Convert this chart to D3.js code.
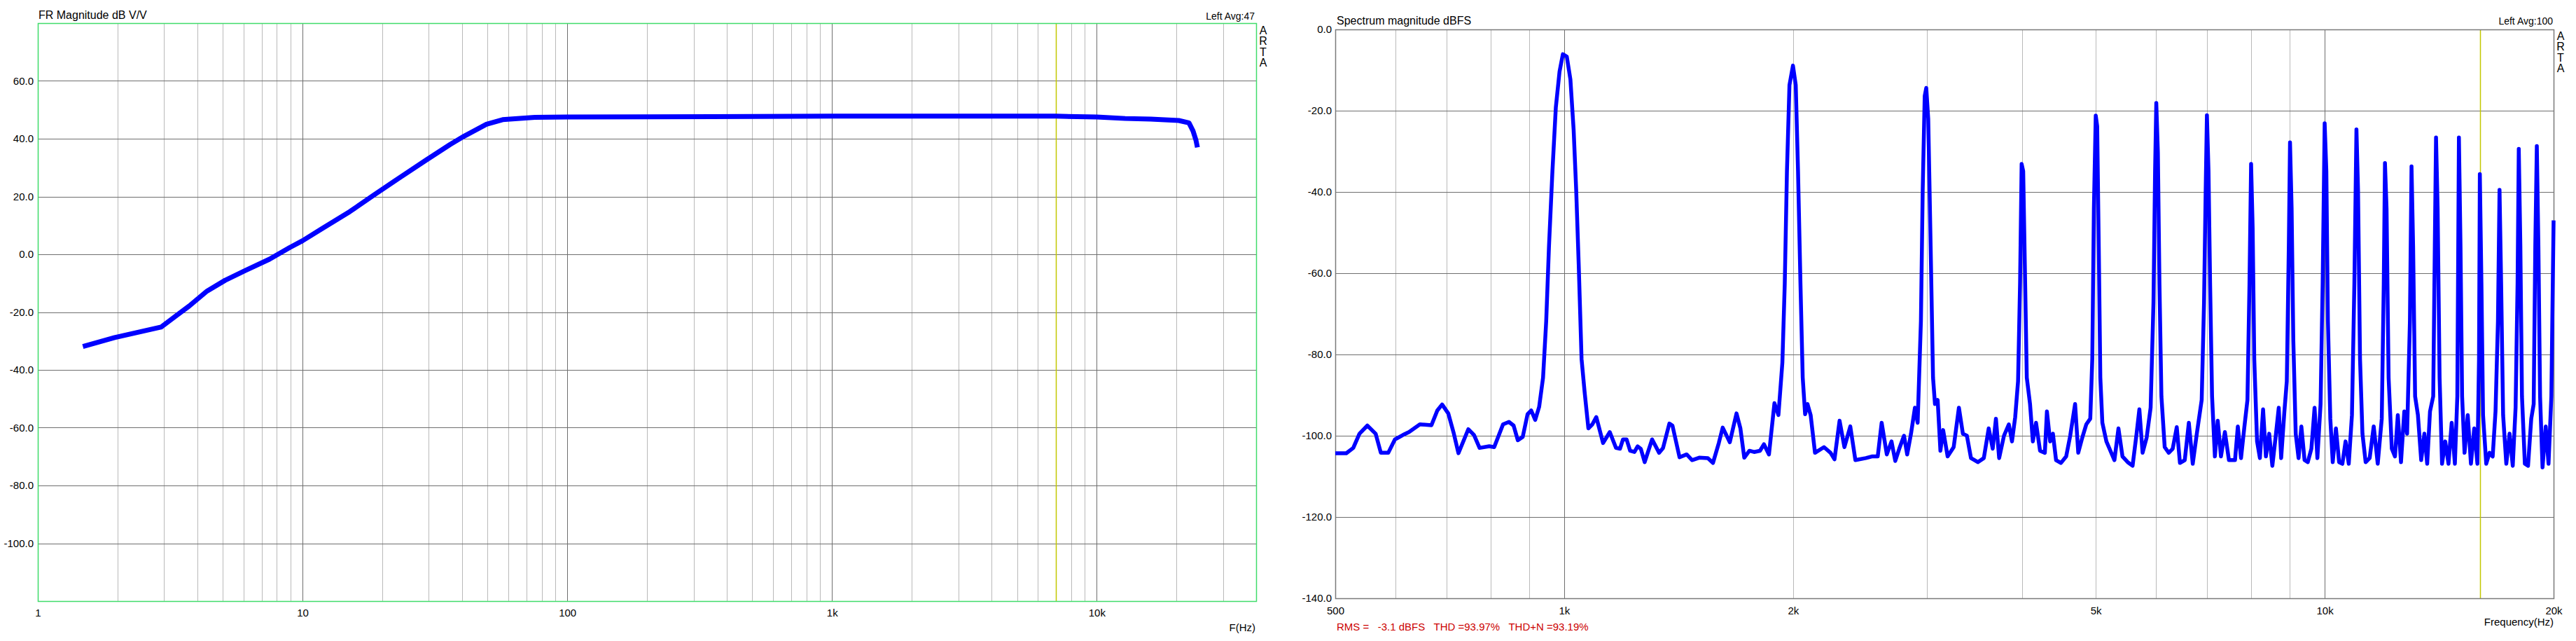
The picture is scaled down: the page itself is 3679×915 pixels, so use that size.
<!DOCTYPE html>
<html>
<head>
<meta charset="utf-8">
<script src="https://cdn.jsdelivr.net/npm/d3@7"></script>
<style>
  body { margin: 0; background: #fff; }
  text { font-family: "Liberation Sans", Arial, sans-serif; fill: #000; }
</style>
</head>
<body>
<div id="chart"></div>
<script>
// ---- left panel: FR magnitude dB V/V ----
var frPoints = [
  [1.48, -31.9], [1.95, -28.8], [2.92, -25.2], [3.73, -17.9], [4.36, -12.7], [5.1, -9.0],
  [6.08, -5.6], [7.5, -1.7], [8.93, 2.3], [10, 4.7], [11.8, 8.8], [15.1, 14.8], [18.6, 20.5],
  [22.9, 26.1], [29.3, 32.6], [36.1, 38.0], [40.8, 40.9], [49.5, 45.0], [57, 46.6], [75.4, 47.4],
  [100, 47.5], [200, 47.6], [500, 47.7], [1000, 47.8], [2000, 47.8], [5000, 47.8], [7000, 47.8],
  [10000, 47.5], [12800, 47.0], [16000, 46.8], [20400, 46.3], [22300, 45.5], [23100, 42.7],
  [23700, 39.5], [24000, 37.0]
];
var frYTicks = [60, 40, 20, 0, -20, -40, -60, -80, -100];
var frXTicks = [1, 10, 100, 1000, 10000];
var frXText = ["1", "10", "100", "1k", "10k"];
var frCursor = 7000;

// ---- right panel: spectrum magnitude dBFS ----
var specPoints = [
  [500,-104.3],[517,-104.3],[528,-103.0],[538,-99.5],[551,-97.5],[565,-99.5],[574,-104.2],[587,-104.2],
  [599,-100.9],[614,-99.8],[625,-99.1],[646,-97.2],[669,-97.4],[681,-93.8],[691,-92.3],[704,-94.5],
  [716,-99.5],[726,-104.3],[748,-98.4],[761,-99.8],[774,-103.0],[797,-102.6],[809,-102.8],[831,-97.2],
  [846,-96.6],[858,-97.5],[869,-101.1],[882,-100.3],[895,-94.7],[905,-93.8],[916,-96.1],[927,-92.9],
  [938,-85.7],[947,-71.8],[955,-53.4],[965,-34.9],[975,-19.2],[986,-10.4],[996,-6.1],[1008,-6.7],
  [1019,-12.3],[1029,-24.7],[1037,-39.5],[1045,-58.0],[1054,-81.1],[1064,-89.4],[1076,-98.2],[1089,-97.2],
  [1102,-95.4],[1125,-101.8],[1148,-99.1],[1170,-103.0],[1184,-103.2],[1195,-100.9],[1208,-100.9],[1221,-103.7],
  [1237,-104.0],[1249,-102.6],[1261,-103.2],[1276,-106.5],[1305,-100.9],[1333,-104.2],[1349,-103.0],[1375,-97.0],
  [1388,-97.5],[1418,-105.3],[1449,-104.6],[1473,-106.0],[1505,-105.4],[1545,-105.5],[1569,-106.7],[1597,-101.8],
  [1616,-98.0],[1651,-101.6],[1685,-94.5],[1705,-98.2],[1725,-105.4],[1752,-103.7],[1777,-104.0],[1809,-103.7],
  [1831,-102.1],[1859,-104.6],[1890,-92.0],[1913,-94.9],[1936,-82.0],[1950,-62.6],[1963,-34.9],[1978,-13.7],
  [1999,-8.9],[2016,-13.7],[2030,-34.9],[2045,-62.6],[2059,-85.7],[2074,-94.7],[2089,-92.2],[2109,-94.9],
  [2137,-104.2],[2196,-102.8],[2240,-104.2],[2267,-105.8],[2302,-96.3],[2336,-102.8],[2378,-97.7],[2415,-106.0],
  [2493,-105.5],[2538,-105.1],[2584,-105.1],[2615,-96.8],[2656,-104.6],[2694,-101.4],[2725,-106.2],[2758,-103.2],
  [2798,-100.0],[2825,-104.6],[2858,-99.5],[2892,-93.1],[2916,-96.8],[2945,-71.8],[2961,-39.5],[2979,-16.4],
  [2993,-14.4],[3011,-22.0],[3033,-53.4],[3055,-85.7],[3073,-92.2],[3098,-91.2],[3124,-103.7],[3150,-98.6],
  [3193,-105.1],[3252,-102.8],[3304,-93.1],[3344,-99.5],[3385,-100.0],[3427,-105.5],[3499,-106.5],[3563,-105.5],
  [3616,-98.2],[3660,-103.2],[3696,-95.8],[3732,-105.5],[3787,-100.0],[3843,-97.2],[3880,-101.4],[3918,-95.4],
  [3952,-86.6],[3976,-62.6],[3995,-33.1],[4014,-34.9],[4034,-58.0],[4058,-85.7],[4098,-92.2],[4133,-101.4],
  [4173,-96.8],[4224,-103.7],[4286,-104.2],[4313,-94.0],[4355,-101.4],[4392,-99.5],[4434,-106.0],[4500,-106.7],
  [4572,-105.1],[4628,-100.0],[4697,-92.2],[4742,-104.2],[4800,-100.5],[4859,-97.2],[4918,-95.8],[4948,-81.1],
  [4972,-44.1],[5000,-21.2],[5022,-23.8],[5046,-53.4],[5070,-85.7],[5101,-96.8],[5164,-101.4],[5227,-103.7],
  [5291,-106.0],[5356,-98.2],[5422,-105.1],[5508,-106.5],[5590,-107.4],[5658,-99.5],[5706,-93.5],[5762,-104.2],
  [5833,-100.5],[5904,-93.1],[5955,-67.2],[5984,-34.9],[6006,-18.1],[6035,-30.3],[6064,-62.6],[6100,-90.3],
  [6161,-102.8],[6237,-104.2],[6312,-103.2],[6390,-97.9],[6452,-106.7],[6547,-106.0],[6628,-96.8],[6707,-106.9],
  [6790,-99.5],[6891,-91.2],[6940,-67.2],[6975,-39.5],[7001,-21.1],[7035,-34.9],[7069,-62.6],[7111,-90.3],
  [7172,-105.1],[7234,-96.3],[7305,-105.1],[7393,-99.1],[7484,-106.0],[7623,-106.0],[7688,-97.7],[7763,-105.5],
  [7838,-98.2],[7915,-91.2],[7964,-62.6],[8003,-33.1],[8041,-48.8],[8080,-81.1],[8149,-101.4],[8219,-105.5],
  [8299,-93.5],[8370,-105.1],[8453,-99.5],[8535,-107.4],[8618,-100.5],[8702,-93.1],[8766,-105.5],[8852,-94.0],
  [8917,-86.6],[8971,-53.4],[9004,-27.8],[9048,-44.1],[9094,-76.5],[9161,-99.5],[9240,-105.5],[9319,-97.7],
  [9409,-106.0],[9501,-106.5],[9606,-103.2],[9699,-93.1],[9782,-105.5],[9877,-92.2],[9939,-62.6],[10000,-23.1],
  [10051,-34.9],[10099,-71.8],[10172,-95.8],[10247,-106.5],[10347,-98.2],[10447,-106.5],[10551,-106.9],[10653,-101.4],
  [10757,-106.9],[10861,-94.9],[10941,-62.6],[11010,-24.6],[11063,-39.5],[11130,-81.1],[11212,-99.5],[11321,-106.5],
  [11460,-105.5],[11601,-97.7],[11743,-106.9],[11887,-95.8],[11959,-62.6],[12003,-32.9],[12061,-44.1],[12136,-85.7],
  [12254,-103.2],[12373,-105.1],[12479,-94.9],[12600,-106.5],[12726,-94.0],[12835,-99.5],[12945,-71.8],[13008,-33.7],
  [13071,-53.4],[13150,-90.3],[13262,-94.9],[13394,-106.0],[13525,-99.5],[13640,-106.9],[13757,-94.0],[13891,-90.3],
  [13958,-53.4],[14010,-26.6],[14078,-44.1],[14162,-85.7],[14267,-106.9],[14406,-101.4],[14549,-106.9],[14690,-96.8],
  [14833,-106.9],[14943,-90.3],[15015,-26.6],[15088,-53.4],[15161,-90.3],[15273,-104.2],[15422,-94.9],[15572,-106.9],
  [15727,-98.2],[15880,-106.9],[15957,-81.1],[15997,-35.6],[16075,-62.6],[16153,-94.9],[16310,-106.9],[16472,-104.2],
  [16632,-105.1],[16775,-94.0],[16899,-71.8],[16980,-39.5],[17063,-62.6],[17165,-94.9],[17332,-106.9],[17504,-99.5],
  [17674,-107.4],[17826,-93.1],[17933,-62.6],[17999,-29.4],[18086,-53.4],[18174,-90.3],[18333,-106.9],[18512,-107.4],
  [18692,-95.8],[18830,-92.2],[18921,-53.4],[19010,-28.7],[19101,-53.4],[19198,-90.3],[19341,-107.8],[19529,-97.7],
  [19696,-106.9],[19865,-90.3],[20000,-47.0]
];
var specYTicks = [0, -20, -40, -60, -80, -100, -120, -140];
var specXTicks = [500, 1000, 2000, 5000, 10000, 20000];
var specXText = ["500", "1k", "2k", "5k", "10k", "20k"];
var specGrid = [600, 700, 800, 900, 1000, 2000, 3000, 4000, 5000, 6000, 7000, 8000, 9000, 10000];
var specCursor = 16000;
var rmsText = "RMS =   -3.1 dBFS   THD =93.97%   THD+N =93.19%";

var darkGrid = "#6e6e6e";
var lightGrid = "#b9b9b9";
var cursorColor = "#c2c800";
var curveColor = "#0000ff";

var svg = d3.select("#chart").append("svg")
  .attr("width", 3679)
  .attr("height", 915)
  .style("display", "block")
  .style("background", "#fff");

function px(v) { return Math.round(v) + 0.5; }

function isDecade(v) { return Math.abs(Math.log10(v) - Math.round(Math.log10(v))) < 1e-9; }

//left panel scales
var frX = d3.scaleLog().domain([1, 40000]).range([54, 1794]);
var frY = d3.scaleLinear().domain([-120, 80]).range([858, 33]);

//right panel scales
var spX = d3.scaleLog().domain([500, 20000]).range([1907, 3647]);
var spY = d3.scaleLinear().domain([-140, 0]).range([854, 42]);

// ---------- left panel ----------
var left = svg.append("g").attr("class", "fr");

var frMinor = frX.ticks().filter(function(t) { return t > 1 && t < 40000; });
left.selectAll("line.vgrid")
  .data(frMinor)
  .enter()
  .append("line")
    .attr("class", "vgrid")
    .attr("x1", function(d) { return px(frX(d)); })
    .attr("x2", function(d) { return px(frX(d)); })
    .attr("y1", frY(80))
    .attr("y2", frY(-120))
    .attr("stroke", function(d) { return isDecade(d) ? darkGrid : lightGrid; })
    .attr("stroke-width", 1);

left.selectAll("line.hgrid")
  .data(frYTicks)
  .enter()
  .append("line")
    .attr("class", "hgrid")
    .attr("x1", frX(1))
    .attr("x2", frX(40000))
    .attr("y1", function(d) { return px(frY(d)); })
    .attr("y2", function(d) { return px(frY(d)); })
    .attr("stroke", darkGrid)
    .attr("stroke-width", 1);

left.append("line")
  .attr("x1", px(frX(frCursor))).attr("x2", px(frX(frCursor)))
  .attr("y1", frY(80)).attr("y2", frY(-120))
  .attr("stroke", cursorColor).attr("stroke-width", 1.5);

left.append("rect")
  .attr("x", px(frX(1))).attr("y", px(frY(80)))
  .attr("width", Math.round(frX(40000) - frX(1))).attr("height", Math.round(frY(-120) - frY(80)))
  .attr("fill", "none").attr("stroke", "#3fdc6a").attr("stroke-width", 1.5);

var frLine = d3.line()
  .x(function(d) { return frX(d[0]); })
  .y(function(d) { return frY(d[1]); });

left.append("path")
  .datum(frPoints)
  .attr("d", frLine)
  .attr("fill", "none")
  .attr("stroke", curveColor)
  .attr("stroke-width", 7)
  .attr("stroke-linejoin", "round");

//axes, labels only
left.append("g")
  .attr("transform", "translate(" + frX(1) + ",0)")
  .call(d3.axisLeft(frY).tickValues(frYTicks).tickFormat(function(d) { return d.toFixed(1); }).tickSize(0).tickPadding(6))
  .call(function(g) { g.select(".domain").remove(); })
  .attr("font-size", 15).attr("font-family", "Liberation Sans, Arial, sans-serif");

left.append("g")
  .attr("transform", "translate(0," + frY(-120) + ")")
  .call(d3.axisBottom(frX).tickValues(frXTicks).tickFormat(function(d, i) { return frXText[i]; }).tickSize(0).tickPadding(11))
  .call(function(g) { g.select(".domain").remove(); })
  .attr("font-size", 15).attr("font-family", "Liberation Sans, Arial, sans-serif");

left.append("text").attr("x", 55).attr("y", 27).attr("font-size", 16).text("FR Magnitude dB V/V");
left.append("text").attr("x", 1792).attr("y", 28).attr("font-size", 14).attr("text-anchor", "end").text("Left  Avg:47");
left.append("text").attr("x", 1793).attr("y", 901).attr("font-size", 15).attr("text-anchor", "end").text("F(Hz)");

left.selectAll("text.arta")
  .data("ARTA".split(""))
  .enter()
  .append("text")
    .attr("class", "arta")
    .attr("x", 1804)
    .attr("y", function(d, i) { return 48.5 + i * 15.5; })
    .attr("font-size", 16)
    .attr("text-anchor", "middle")
    .text(function(d) { return d; });

// ---------- right panel ----------
var right = svg.append("g").attr("class", "spectrum");

right.selectAll("line.vgrid")
  .data(specGrid)
  .enter()
  .append("line")
    .attr("class", "vgrid")
    .attr("x1", function(d) { return px(spX(d)); })
    .attr("x2", function(d) { return px(spX(d)); })
    .attr("y1", spY(0))
    .attr("y2", spY(-140))
    .attr("stroke", function(d) { return isDecade(d) ? darkGrid : lightGrid; })
    .attr("stroke-width", 1);

right.selectAll("line.hgrid")
  .data(specYTicks.filter(function(d) { return d < 0 && d > -140; }))
  .enter()
  .append("line")
    .attr("class", "hgrid")
    .attr("x1", spX(500))
    .attr("x2", spX(20000))
    .attr("y1", function(d) { return px(spY(d)); })
    .attr("y2", function(d) { return px(spY(d)); })
    .attr("stroke", darkGrid)
    .attr("stroke-width", 1);

right.append("line")
  .attr("x1", px(spX(specCursor))).attr("x2", px(spX(specCursor)))
  .attr("y1", spY(0)).attr("y2", spY(-140))
  .attr("stroke", cursorColor).attr("stroke-width", 1.5);

right.append("rect")
  .attr("x", px(spX(500))).attr("y", px(spY(0)))
  .attr("width", Math.round(spX(20000) - spX(500))).attr("height", Math.round(spY(-140) - spY(0)))
  .attr("fill", "none").attr("stroke", "#7a7a7a").attr("stroke-width", 1.5);

var specLine = d3.line()
  .x(function(d) { return spX(d[0]); })
  .y(function(d) { return spY(d[1]); });

right.append("path")
  .datum(specPoints)
  .attr("d", specLine)
  .attr("fill", "none")
  .attr("stroke", curveColor)
  .attr("stroke-width", 5.5)
  .attr("stroke-linejoin", "round");

right.append("g")
  .attr("transform", "translate(" + spX(500) + ",0)")
  .call(d3.axisLeft(spY).tickValues(specYTicks).tickFormat(function(d) { return d.toFixed(1); }).tickSize(0).tickPadding(5))
  .call(function(g) { g.select(".domain").remove(); })
  .attr("font-size", 15).attr("font-family", "Liberation Sans, Arial, sans-serif");

right.append("g")
  .attr("transform", "translate(0," + spY(-140) + ")")
  .call(d3.axisBottom(spX).tickValues(specXTicks).tickFormat(function(d, i) { return specXText[i]; }).tickSize(0).tickPadding(12))
  .call(function(g) { g.select(".domain").remove(); })
  .attr("font-size", 15).attr("font-family", "Liberation Sans, Arial, sans-serif");

right.append("text").attr("x", 1909).attr("y", 35).attr("font-size", 16).text("Spectrum magnitude dBFS");
right.append("text").attr("x", 3646).attr("y", 35).attr("font-size", 14).attr("text-anchor", "end").text("Left  Avg:100");
right.append("text").attr("x", 3647).attr("y", 893).attr("font-size", 15).attr("text-anchor", "end").text("Frequency(Hz)");
right.append("text")
  .attr("x", 1909).attr("y", 900)
  .attr("font-size", 15)
  .attr("xml:space", "preserve")
  .style("white-space", "pre")
  .style("fill", "#cc0000")
  .text(rmsText);

right.selectAll("text.arta")
  .data("ARTA".split(""))
  .enter()
  .append("text")
    .attr("class", "arta")
    .attr("x", 3657)
    .attr("y", function(d, i) { return 56.7 + i * 15.4; })
    .attr("font-size", 16)
    .attr("text-anchor", "middle")
    .text(function(d) { return d; });
</script>
</body>
</html>
